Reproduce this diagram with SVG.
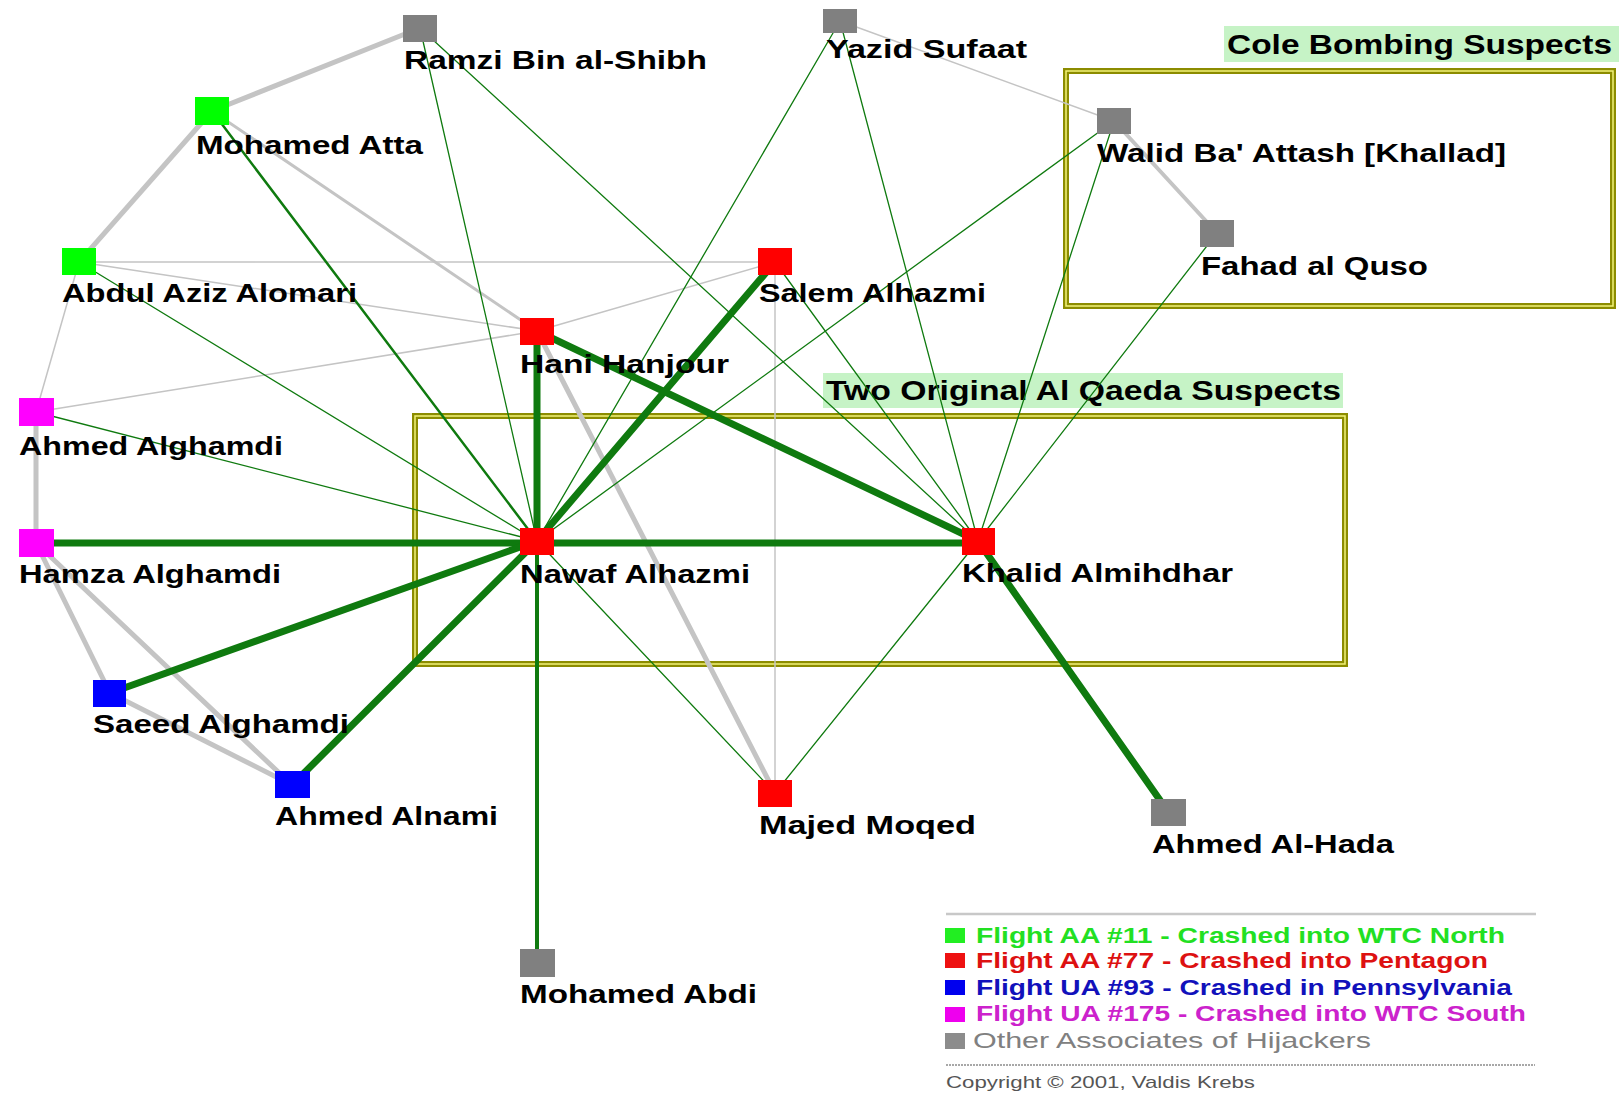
<svg xmlns="http://www.w3.org/2000/svg" width="1619" height="1096" viewBox="0 0 1619 1096">
<style>
.lbl{font-family:"Liberation Sans",Arial,sans-serif;font-weight:bold;font-size:26px;fill:#000}
.ttl{font-family:"Liberation Sans",Arial,sans-serif;font-weight:bold;font-size:28px;fill:#000}
.leg{font-family:"Liberation Sans",Arial,sans-serif;font-weight:bold;font-size:22px}
.legn{font-family:"Liberation Sans",Arial,sans-serif;font-weight:normal;font-size:22px}
.g{stroke:#c4c4c4;fill:none;stroke-linecap:round}
.e{stroke:#0f7a0f;fill:none;stroke-linecap:round}
.box1{fill:none;stroke:#8c8c00;stroke-width:6}
.box2{fill:none;stroke:#f2f27a;stroke-width:1.5}
.n rect{stroke:none}
.green{fill:#00ff00}.red{fill:#ff0000}.blue{fill:#0000ff}.mag{fill:#ff00ff}.gray{fill:#808080}
</style>
<rect width="1619" height="1096" fill="#ffffff"/>

<!-- group boxes -->
<g id="box-two-original">
<rect x="415" y="416" width="930" height="248" class="box1"/>
<rect x="415" y="416" width="930" height="248" class="box2"/>
<rect x="823" y="373" width="520" height="35" fill="#c6f3c6"/>
<text x="826" y="400" class="ttl" textLength="515" lengthAdjust="spacingAndGlyphs">Two Original Al Qaeda Suspects</text>
</g>
<g id="box-cole">
<rect x="1066" y="71" width="547" height="235" class="box1"/>
<rect x="1066" y="71" width="547" height="235" class="box2"/>
<rect x="1224" y="26" width="395" height="36" fill="#c6f3c6"/>
<text x="1227" y="54" class="ttl" textLength="385" lengthAdjust="spacingAndGlyphs">Cole Bombing Suspects</text>
</g>

<g id="connectors">
<!-- gray thick -->
<line x1="420" y1="28" x2="212" y2="111" class="g" stroke-width="5"/>
<line x1="212" y1="111" x2="79" y2="262" class="g" stroke-width="5"/>
<line x1="212" y1="111" x2="537" y2="331" class="g" stroke-width="3"/>
<line x1="36" y1="412" x2="36" y2="543" class="g" stroke-width="5"/>
<line x1="36" y1="543" x2="110" y2="693" class="g" stroke-width="5"/>
<line x1="36" y1="543" x2="292" y2="785" class="g" stroke-width="5"/>
<line x1="110" y1="693" x2="292" y2="785" class="g" stroke-width="5"/>
<line x1="537" y1="331" x2="775" y2="793" class="g" stroke-width="5"/>
<line x1="1114" y1="121" x2="1217" y2="233" class="g" stroke-width="4"/>
<!-- gray thin -->
<line x1="79" y1="262" x2="775" y2="262" class="g" stroke-width="1.5"/>
<line x1="79" y1="262" x2="537" y2="331" class="g" stroke-width="1.5"/>
<line x1="79" y1="262" x2="36" y2="412" class="g" stroke-width="1.5"/>
<line x1="36" y1="412" x2="537" y2="331" class="g" stroke-width="1.5"/>
<line x1="537" y1="331" x2="775" y2="262" class="g" stroke-width="1.5"/>
<line x1="775" y1="262" x2="775" y2="793" class="g" stroke-width="1.5"/>
<line x1="840" y1="21" x2="1114" y2="121" class="g" stroke-width="1.5"/>
<!-- green thin -->
<line x1="420" y1="28" x2="537" y2="541" class="e" stroke-width="1.3"/>
<line x1="420" y1="28" x2="978" y2="541" class="e" stroke-width="1.3"/>
<line x1="79" y1="262" x2="537" y2="541" class="e" stroke-width="1.3"/>
<line x1="36" y1="412" x2="537" y2="541" class="e" stroke-width="1.3"/>
<line x1="840" y1="21" x2="537" y2="541" class="e" stroke-width="1.3"/>
<line x1="840" y1="21" x2="978" y2="541" class="e" stroke-width="1.3"/>
<line x1="1114" y1="121" x2="537" y2="541" class="e" stroke-width="1.3"/>
<line x1="1114" y1="121" x2="978" y2="541" class="e" stroke-width="1.3"/>
<line x1="1217" y1="233" x2="978" y2="541" class="e" stroke-width="1.3"/>
<line x1="775" y1="262" x2="978" y2="541" class="e" stroke-width="1.3"/>
<line x1="537" y1="541" x2="775" y2="793" class="e" stroke-width="1.3"/>
<line x1="978" y1="541" x2="775" y2="793" class="e" stroke-width="1.3"/>
<!-- green medium -->
<line x1="212" y1="111" x2="537" y2="541" class="e" stroke-width="2.5"/>
<line x1="537" y1="541" x2="537" y2="963" class="e" stroke-width="4"/>
<!-- green thick -->
<line x1="537" y1="331" x2="537" y2="541" class="e" stroke-width="7"/>
<line x1="775" y1="262" x2="537" y2="541" class="e" stroke-width="7"/>
<line x1="537" y1="331" x2="978" y2="541" class="e" stroke-width="7"/>
<line x1="36" y1="543" x2="978" y2="543" class="e" stroke-width="7"/>
<line x1="110" y1="693" x2="537" y2="541" class="e" stroke-width="7"/>
<line x1="292" y1="785" x2="537" y2="541" class="e" stroke-width="7"/>
<line x1="978" y1="541" x2="1169" y2="813" class="e" stroke-width="7"/>
</g>

<g id="node-ramzi" class="n"><rect x="403" y="15" width="34" height="27" class="gray"/><text x="404" y="69" class="lbl" textLength="303" lengthAdjust="spacingAndGlyphs">Ramzi Bin al-Shibh</text></g>
<g id="node-yazid" class="n"><rect x="823" y="9" width="34" height="24" class="gray"/><text x="826" y="58" class="lbl" textLength="201" lengthAdjust="spacingAndGlyphs">Yazid Sufaat</text></g>
<g id="node-atta" class="n"><rect x="195" y="97" width="34" height="28" class="green"/><text x="196" y="154" class="lbl" textLength="227" lengthAdjust="spacingAndGlyphs">Mohamed Atta</text></g>
<g id="node-alomari" class="n"><rect x="62" y="248" width="34" height="27" class="green"/><text x="62" y="302" class="lbl" textLength="295" lengthAdjust="spacingAndGlyphs">Abdul Aziz Alomari</text></g>
<g id="node-salem" class="n"><rect x="758" y="248" width="34" height="27" class="red"/><text x="759" y="302" class="lbl" textLength="227" lengthAdjust="spacingAndGlyphs">Salem Alhazmi</text></g>
<g id="node-hani" class="n"><rect x="520" y="318" width="34" height="27" class="red"/><text x="520" y="373" class="lbl" textLength="209" lengthAdjust="spacingAndGlyphs">Hani Hanjour</text></g>
<g id="node-ahmed-alghamdi" class="n"><rect x="19" y="398" width="35" height="28" class="mag"/><text x="19" y="455" class="lbl" textLength="264" lengthAdjust="spacingAndGlyphs">Ahmed Alghamdi</text></g>
<g id="node-hamza" class="n"><rect x="19" y="529" width="35" height="28" class="mag"/><text x="19" y="583" class="lbl" textLength="262" lengthAdjust="spacingAndGlyphs">Hamza Alghamdi</text></g>
<g id="node-nawaf" class="n"><rect x="520" y="528" width="34" height="27" class="red"/><text x="520" y="583" class="lbl" textLength="230" lengthAdjust="spacingAndGlyphs">Nawaf Alhazmi</text></g>
<g id="node-khalid" class="n"><rect x="962" y="528" width="33" height="27" class="red"/><text x="962" y="582" class="lbl" textLength="271" lengthAdjust="spacingAndGlyphs">Khalid Almihdhar</text></g>
<g id="node-saeed" class="n"><rect x="93" y="680" width="33" height="27" class="blue"/><text x="93" y="733" class="lbl" textLength="256" lengthAdjust="spacingAndGlyphs">Saeed Alghamdi</text></g>
<g id="node-alnami" class="n"><rect x="275" y="771" width="35" height="27" class="blue"/><text x="275" y="825" class="lbl" textLength="223" lengthAdjust="spacingAndGlyphs">Ahmed Alnami</text></g>
<g id="node-majed" class="n"><rect x="758" y="780" width="34" height="27" class="red"/><text x="759" y="834" class="lbl" textLength="217" lengthAdjust="spacingAndGlyphs">Majed Moqed</text></g>
<g id="node-alhada" class="n"><rect x="1151" y="799" width="35" height="27" class="gray"/><text x="1152" y="853" class="lbl" textLength="242" lengthAdjust="spacingAndGlyphs">Ahmed Al-Hada</text></g>
<g id="node-abdi" class="n"><rect x="520" y="949" width="35" height="28" class="gray"/><text x="520" y="1003" class="lbl" textLength="237" lengthAdjust="spacingAndGlyphs">Mohamed Abdi</text></g>
<g id="node-walid" class="n"><rect x="1097" y="108" width="34" height="26" class="gray"/><text x="1097" y="162" class="lbl" textLength="409" lengthAdjust="spacingAndGlyphs">Walid Ba' Attash [Khallad]</text></g>
<g id="node-fahad" class="n"><rect x="1200" y="220" width="34" height="27" class="gray"/><text x="1201" y="275" class="lbl" textLength="227" lengthAdjust="spacingAndGlyphs">Fahad al Quso</text></g>

<g id="legend">
<line x1="946" y1="914" x2="1536" y2="914" stroke="#c8c8c8" stroke-width="2.5"/>
<rect x="945" y="928" width="20" height="15" fill="#22ee22"/>
<text x="976" y="943" class="leg" fill="#22e022" textLength="529" lengthAdjust="spacingAndGlyphs">Flight AA #11 - Crashed into WTC North</text>
<rect x="945" y="953" width="20" height="15" fill="#ee1111"/>
<text x="976" y="968" class="leg" fill="#dd1111" textLength="512" lengthAdjust="spacingAndGlyphs">Flight AA #77 - Crashed into Pentagon</text>
<rect x="945" y="980" width="20" height="15" fill="#0000ee"/>
<text x="976" y="995" class="leg" fill="#1111bb" textLength="536" lengthAdjust="spacingAndGlyphs">Flight UA #93 - Crashed in Pennsylvania</text>
<rect x="945" y="1007" width="20" height="15" fill="#ee00ee"/>
<text x="976" y="1021" class="leg" fill="#cc22cc" textLength="550" lengthAdjust="spacingAndGlyphs">Flight UA #175 - Crashed into WTC South</text>
<rect x="945" y="1033" width="20" height="16" fill="#8c8c8c"/>
<text x="973" y="1048" class="legn" fill="#808080" textLength="398" lengthAdjust="spacingAndGlyphs">Other Associates of Hijackers</text>
<line x1="946" y1="1065" x2="1535" y2="1065" stroke="#a8a8a8" stroke-width="2" stroke-dasharray="2 1"/>
<text x="946" y="1088" font-family="Liberation Sans, Arial, sans-serif" font-size="17" fill="#555555" textLength="309" lengthAdjust="spacingAndGlyphs">Copyright © 2001, Valdis Krebs</text>
</g>
</svg>
